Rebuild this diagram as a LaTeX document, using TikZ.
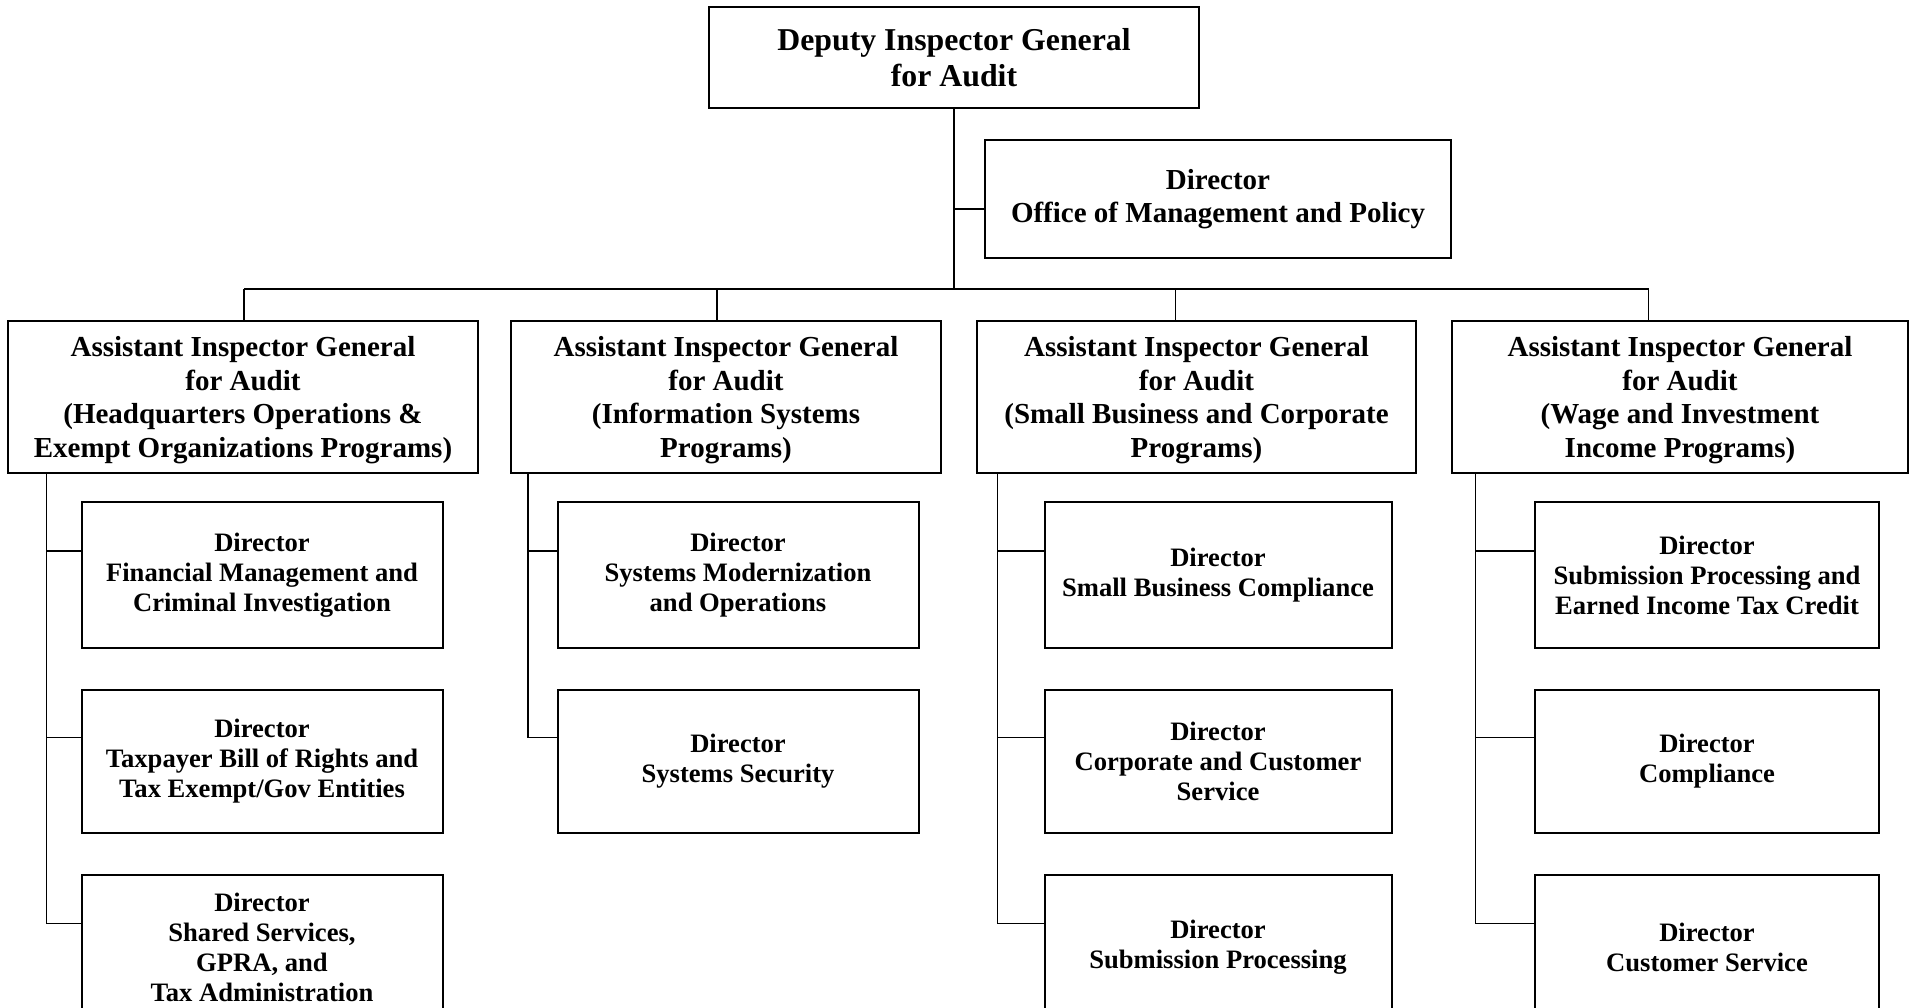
\documentclass[tikz,border=0pt]{standalone}
\usepackage{fontspec}
\setmainfont{Liberation Serif}
\def\sh{12pt}
\tikzstyle{box}=[draw,line width=1pt,inner sep=0pt,align=center,font=\bfseries]
\tikzstyle{hd}=[box,minimum height=50.5pt,font=\bfseries\fontsize{15.9}{17.7}\selectfont]
\tikzstyle{aig}=[box,minimum height=76pt,font=\bfseries\fontsize{14.5}{16.8}\selectfont]
\tikzstyle{dir}=[box,font=\bfseries\fontsize{13.3}{15}\selectfont]
\tikzstyle{edge}=[-,draw,line width=.85pt]
\begin{document}
\begin{tikzpicture}[x=.5pt,y=-.5pt]
\useasboundingbox (0,0) rectangle (1910,1007);
\clip (0,0) rectangle (1910,1007);
% top
\node[hd,minimum width=245pt](dig) at (954,57.5){Deputy Inspector General\\for Audit};
\node[aig,minimum width=233pt,minimum height=59pt](omp) at (1218,199){Director\\Office of Management and Policy};
% assistant inspectors general
\node[aig,minimum width=235pt,text depth=-3pt](a1) at (243,397){Assistant Inspector General\\for Audit\\(Headquarters Operations \&\\Exempt Organizations Programs)};
\node[aig,minimum width=215pt,text depth=-3pt](a2) at (726,397){Assistant Inspector General\\for Audit\\(Information Systems\\Programs)};
\node[aig,minimum width=219.5pt,text depth=-3pt](a3) at (1196.5,397){Assistant Inspector General\\for Audit\\(Small Business and Corporate\\Programs)};
\node[aig,minimum width=228pt,text depth=-3pt](a4) at (1680,397){Assistant Inspector General\\for Audit\\(Wage and Investment\\Income Programs)};
% directors
\node[dir,minimum width=180.5pt,minimum height=73pt](d11) at (262,575){Director\\Financial Management and\\Criminal Investigation};
\node[dir,minimum width=180.5pt,minimum height=71.5pt](d12) at (262,761.5){Director\\Taxpayer Bill of Rights and\\Tax Exempt/Gov Entities};
\node[dir,minimum width=180.5pt,minimum height=72.5pt](d13) at (262,947.5){Director\\Shared Services,\\GPRA, and\\Tax Administration};
\node[dir,minimum width=180.5pt,minimum height=73pt](d21) at (738,575){Director\\Systems Modernization\\and Operations};
\node[dir,minimum width=180.5pt,minimum height=71.5pt](d22) at (738,761.5){Director\\Systems Security};
\node[dir,minimum width=173.5pt,minimum height=73pt](d31) at (1218,575){Director\\Small Business Compliance};
\node[dir,minimum width=173.5pt,minimum height=71.5pt](d32) at (1218,761.5){Director\\Corporate and Customer\\Service};
\node[dir,minimum width=173.5pt,minimum height=72.5pt](d33) at (1218,947.5){Director\\Submission Processing};
\node[dir,minimum width=172pt,minimum height=73pt](d41) at (1707,575){Director\\Submission Processing and\\Earned Income Tax Credit};
\node[dir,minimum width=172pt,minimum height=71.5pt](d42) at (1707,761.5){Director\\Compliance};
\node[dir,minimum width=172pt,minimum height=72.5pt](d43) at (1707,947.5){Director\\Customer Service};
% junctions
\coordinate (bus) at (954,289);
\coordinate (b1) at (244,289);
\coordinate (b2) at (717,289);
\coordinate (b3) at (1175.5,289);
\coordinate (b4) at (1648.5,289);
\coordinate (s1) at (46.5,473);
\coordinate (s2) at (528,473);
\coordinate (s3) at (997.5,473);
\coordinate (s4) at (1475.5,473);
% connectors
\draw[edge](dig)--(bus);
\draw[edge]([yshift=-5pt]omp.west)-|(bus);
\draw[edge](b1)--(b4);
\draw[edge](b1)--(b1|-a1.north);
\draw[edge](b2)--(b2|-a2.north);
\draw[edge](b3)--(b3|-a3.north);
\draw[edge](b4)--(b4|-a4.north);
\draw[edge](s1)|-([yshift=\sh]d13.west);
\draw[edge]([yshift=\sh]d11.west)-|(s1);
\draw[edge]([yshift=\sh]d12.west)-|(s1);
\draw[edge](s2)|-([yshift=\sh]d22.west);
\draw[edge]([yshift=\sh]d21.west)-|(s2);
\draw[edge](s3)|-([yshift=\sh]d33.west);
\draw[edge]([yshift=\sh]d31.west)-|(s3);
\draw[edge]([yshift=\sh]d32.west)-|(s3);
\draw[edge](s4)|-([yshift=\sh]d43.west);
\draw[edge]([yshift=\sh]d41.west)-|(s4);
\draw[edge]([yshift=\sh]d42.west)-|(s4);
\end{tikzpicture}
\end{document}
